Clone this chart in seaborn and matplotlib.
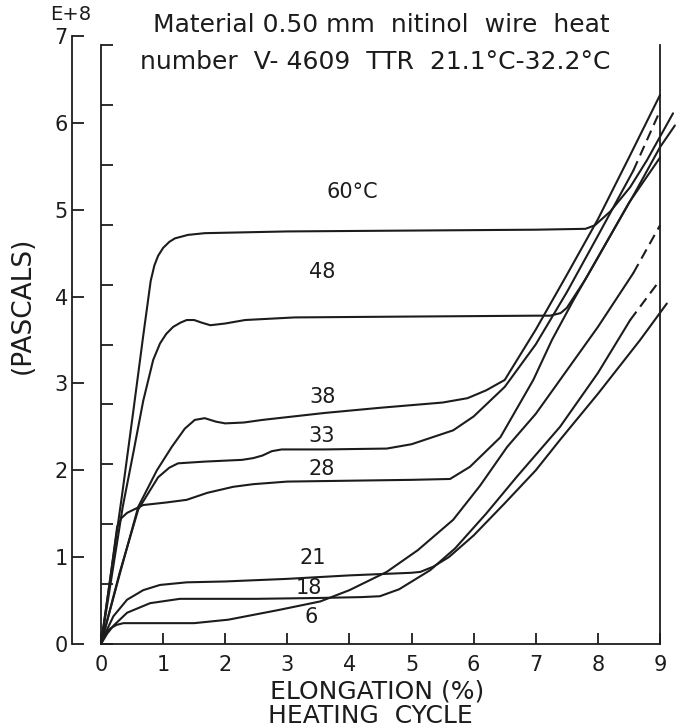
import matplotlib
matplotlib.use("Agg")
import matplotlib.pyplot as plt
import seaborn as sns

# Stress-strain curves of 0.50 mm nitinol wire, heating cycle (stress in units of 1E+8 Pa)
strain_60 = [0, 0.34, 0.52, 0.68, 0.8, 0.86, 0.92, 1.0, 1.1, 1.19, 1.4, 1.67, 3.0, 5.0, 7.0, 7.8, 7.95, 8.2, 8.52, 8.79, 9.21]
stress_60 = [0, 1.72, 2.68, 3.55, 4.18, 4.36, 4.47, 4.56, 4.63, 4.67, 4.71, 4.73, 4.75, 4.76, 4.77, 4.78, 4.82, 4.98, 5.26, 5.57, 6.11]

strain_48 = [0, 0.35, 0.52, 0.68, 0.84, 0.95, 1.05, 1.16, 1.28, 1.38, 1.5, 1.62, 1.76, 2.0, 2.32, 3.12, 5.0, 7.0, 7.23, 7.4, 7.5, 7.8, 8.2, 8.6, 9.0, 9.24]
stress_48 = [0, 1.58, 2.2, 2.8, 3.27, 3.46, 3.57, 3.65, 3.70, 3.73, 3.73, 3.70, 3.67, 3.69, 3.73, 3.76, 3.77, 3.78, 3.78, 3.81, 3.87, 4.2, 4.7, 5.2, 5.72, 5.97]

strain_38 = [0, 0.3, 0.6, 0.9, 1.14, 1.35, 1.51, 1.67, 1.85, 2.0, 2.3, 2.6, 3.6, 4.5, 5.5, 5.9, 6.2, 6.5, 7.0, 7.5, 8.0, 8.5, 9.0]
stress_38 = [0, 0.8, 1.58, 2.0, 2.27, 2.48, 2.58, 2.6, 2.56, 2.54, 2.55, 2.58, 2.66, 2.72, 2.78, 2.83, 2.92, 3.04, 3.62, 4.25, 4.89, 5.6, 6.32]

strain_33 = [0, 0.3, 0.6, 0.92, 1.1, 1.24, 1.67, 2.27, 2.45, 2.6, 2.75, 2.91, 3.6, 4.6, 5.0, 5.67, 6.0, 6.5, 7.0, 7.5, 8.0, 8.57]
stress_33 = [0, 0.82, 1.55, 1.92, 2.03, 2.08, 2.1, 2.12, 2.14, 2.17, 2.22, 2.24, 2.24, 2.25, 2.3, 2.46, 2.62, 2.96, 3.45, 4.05, 4.7, 5.45]
strain_33_ext = [8.57, 8.97]
stress_33_ext = [5.45, 6.09]

strain_28 = [0, 0.15, 0.26, 0.33, 0.42, 0.68, 1.06, 1.38, 1.71, 2.13, 2.45, 3.0, 4.0, 5.0, 5.62, 5.94, 6.43, 6.96, 7.26, 7.6, 8.0, 8.5, 9.0]
stress_28 = [0, 0.76, 1.35, 1.45, 1.51, 1.6, 1.63, 1.66, 1.74, 1.81, 1.84, 1.87, 1.88, 1.89, 1.9, 2.04, 2.38, 3.04, 3.5, 3.95, 4.45, 5.08, 5.6]

strain_21 = [0, 0.1, 0.2, 0.42, 0.68, 0.95, 1.38, 2.0, 3.0, 4.0, 5.0, 5.14, 5.35, 5.6, 6.0, 6.5, 7.0, 7.39, 8.0, 8.68, 9.11]
stress_21 = [0, 0.17, 0.32, 0.51, 0.62, 0.68, 0.71, 0.72, 0.75, 0.79, 0.82, 0.83, 0.89, 1.0, 1.25, 1.62, 2.0, 2.35, 2.88, 3.5, 3.92]

strain_18 = [0, 0.1, 0.2, 0.42, 0.79, 1.27, 2.5, 3.5, 4.2, 4.49, 4.8, 5.3, 5.7, 6.2, 6.7, 7.39, 8.0, 8.52]
stress_18 = [0, 0.12, 0.21, 0.36, 0.47, 0.52, 0.52, 0.53, 0.54, 0.55, 0.63, 0.85, 1.1, 1.5, 1.93, 2.5, 3.12, 3.73]
strain_18_ext = [8.52, 9.0]
stress_18_ext = [3.73, 4.19]

strain_6 = [0, 0.05, 0.15, 0.25, 0.36, 0.8, 1.5, 2.05, 2.85, 3.53, 4.0, 4.6, 5.1, 5.67, 6.1, 6.54, 7.0, 7.39, 8.0, 8.57]
stress_6 = [0, 0.1, 0.18, 0.22, 0.24, 0.24, 0.24, 0.28, 0.39, 0.49, 0.62, 0.83, 1.08, 1.43, 1.82, 2.27, 2.65, 3.04, 3.65, 4.27]
strain_6_ext = [8.57, 9.0]
stress_6_ext = [4.27, 4.82]

curve_labels = ["60°C", "48", "38", "33", "28", "21", "18", "6"]
label_x = [4.04, 3.56, 3.56, 3.56, 3.56, 3.41, 3.35, 3.38]
label_y = [5.2, 4.28, 2.84, 2.39, 2.01, 0.99, 0.64, 0.31]

x_ticks = [0, 1, 2, 3, 4, 5, 6, 7, 8, 9]
pa_ticks = [0, 1, 2, 3, 4, 5, 6, 7]
ksi_ticks = [k * 0.68948 for k in range(11)]  # 10 ksi steps expressed in 1E+8 Pa

title_lines = ["Material 0.50 mm  nitinol  wire  heat",
               "number  V- 4609  TTR  21.1°C-32.2°C"]

sns.set_style("ticks")
plt.rcParams["font.family"] = ["DejaVu Sans"]
INK = "#1c1c1c"

W, H = 676, 728
fig = plt.figure(figsize=(W / 100, H / 100), dpi=100)
x0, x1, yb, yt = 101, 660, 644, 36
ax = fig.add_axes([x0 / W, 1 - yb / H, (x1 - x0) / W, (yb - yt) / H])

solid = [(strain_60, stress_60), (strain_48, stress_48), (strain_38, stress_38),
         (strain_33, stress_33), (strain_28, stress_28), (strain_21, stress_21),
         (strain_18, stress_18), (strain_6, stress_6)]
dashed = [(strain_33_ext, stress_33_ext), (strain_18_ext, stress_18_ext),
          (strain_6_ext, stress_6_ext)]

for xs, ys in solid:
    sns.lineplot(x=xs, y=ys, ax=ax, sort=False, estimator=None, color=INK,
                 lw=1.5, clip_on=False)
for xs, ys in dashed:
    sns.lineplot(x=xs, y=ys, ax=ax, sort=False, estimator=None, color=INK,
                 lw=1.5, ls=(0, (5, 3)), clip_on=False)

for txt, lx, ly in zip(curve_labels, label_x, label_y):
    ax.text(lx, ly, txt, ha="center", va="center", fontsize=15, color=INK)

ax.set_xlim(0, 9)
ax.set_ylim(0, 7)
ax.set_xticks(x_ticks)
ax.set_xticklabels([str(v) for v in x_ticks])
ax.set_yticks(ksi_ticks)
ax.set_yticklabels([])
ax.tick_params(axis="x", direction="in", length=8, width=1.3, color=INK,
               labelsize=15, pad=8, labelcolor=INK)
ax.tick_params(axis="y", direction="in", length=8.5, width=1.3, color=INK)
ax.spines["top"].set_visible(False)
for side in ("left", "right", "bottom"):
    ax.spines[side].set_color(INK)
    ax.spines[side].set_linewidth(1.3)
ax.spines["left"].set_bounds(0, 6.8948)
ax.spines["right"].set_bounds(0, 6.8948)
ax.set_xlabel("")
ax.set_ylabel("")

# Outer stress scale in pascals
sec = ax.secondary_yaxis((72 - x0) / (x1 - x0))
sec.set_yticks(pa_ticks)
sec.set_yticklabels([str(v) for v in pa_ticks])
sec.tick_params(direction="in", length=8.5, width=1.3, color=INK,
                labelsize=15, pad=3, labelcolor=INK)
sec.spines["left"].set_color(INK)
sec.spines["left"].set_linewidth(1.3)


def ftext(px, py, s, **kw):
    fig.text(px / W, 1 - py / H, s, ha="center", va="center", color=INK, **kw)


ftext(381, 25, title_lines[0], fontsize=18)
ftext(375, 62, title_lines[1], fontsize=18)
ftext(71, 14, "E+8", fontsize=14)
ftext(23, 305, "(PASCALS)", fontsize=19, rotation=90)
ftext(377, 692, "ELONGATION (%)", fontsize=18)
ftext(370, 716, "HEATING  CYCLE", fontsize=18)

fig.savefig("out.png", dpi=100)
